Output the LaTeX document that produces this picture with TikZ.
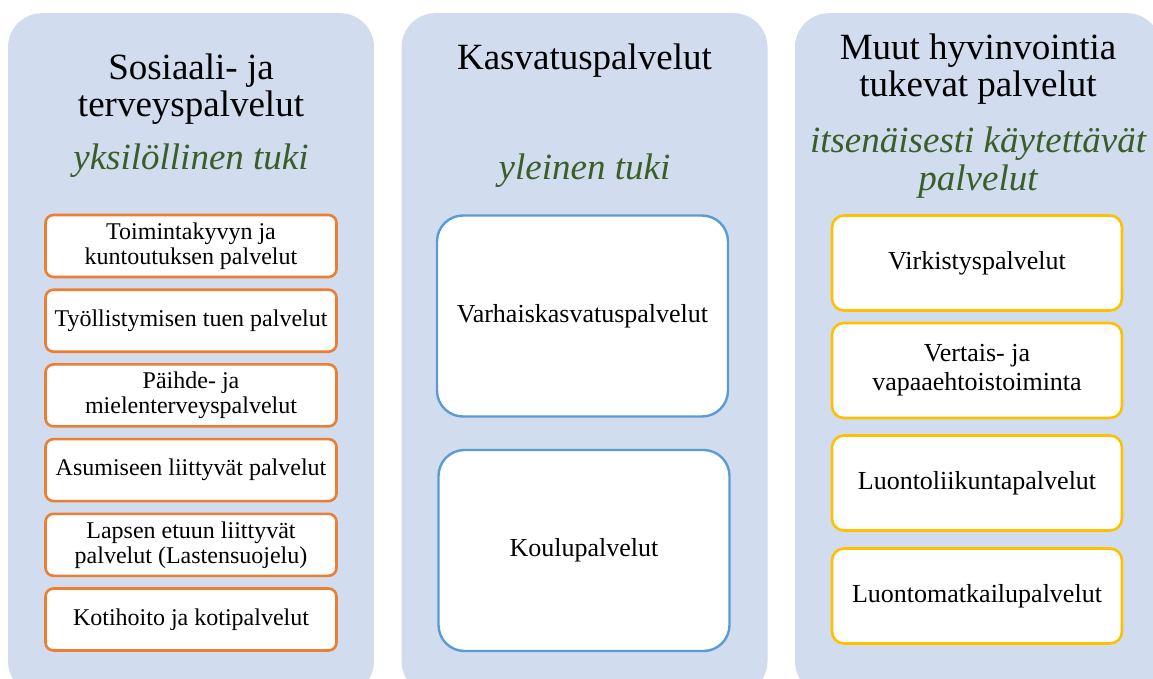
\documentclass[tikz,border=0pt]{standalone}
\usepackage{fontspec}
\setmainfont{Liberation Serif}
\usetikzlibrary{positioning}
\definecolor{panelblue}{HTML}{D1DCEE}
\definecolor{subgreen}{HTML}{3A5E27}
\definecolor{lineorange}{HTML}{ED7D31}
\definecolor{lineblue}{HTML}{5B9BD5}
\definecolor{linegold}{HTML}{FFC000}
\tikzset{
	panel/.style={rectangle, rounded corners=34pt, fill=panelblue,
		minimum width=366pt, minimum height=682pt, anchor=north},
	head/.style={anchor=base, align=center, font=\fontsize{37}{37}\selectfont},
	sub/.style={anchor=base, align=center, text=subgreen,
		font=\fontsize{37}{37}\selectfont\itshape},
	obox/.style={draw=lineorange, line width=2.6pt, fill=white, rounded corners=8pt,
		minimum width=291pt, minimum height=62pt, align=center,
		font=\fontsize{24}{25}\selectfont},
	kbox/.style={draw=lineblue, line width=2.4pt, fill=white, rounded corners=26pt,
		minimum width=291pt, minimum height=201pt, align=center,
		font=\fontsize{26}{28}\selectfont},
	ybox/.style={draw=linegold, line width=2.6pt, fill=white, rounded corners=12pt,
		minimum width=290pt, minimum height=95pt, align=center,
		font=\fontsize{26}{29}\selectfont}
}

\begin{document}
\begin{tikzpicture}[x=1pt, y=-1pt, node distance=10.1pt]
	\useasboundingbox (0,0) rectangle (1153,679);
	\clip (0,0) rectangle (1153,679);
	% taustat
	\node[panel] (sote) at (191,13) {};
	\node[panel] (kasvatus) at (584.5,13) {};
	\node[panel] (muut) at (978,13) {};
	% otsikot (base = viimeisen rivin perusviiva)
	\node[head] (sotehead) at (191,117) {Sosiaali- ja\\terveyspalvelut};
	\node[sub] (sotesub) at (191,170) {yksilöllinen tuki};
	\node[head] (kasvatushead) at (584.5,70) {Kasvatuspalvelut};
	\node[sub] (kasvatussub) at (584.5,180) {yleinen tuki};
	\node[head] (muuthead) at (978,97) {Muut hyvinvointia\\tukevat palvelut};
	\node[sub] (muutsub) at (978,190) {itsenäisesti käytettävät\\palvelut};
	% yksilöllinen tuki
	\node[obox] (toiminta) at (191,246) {Toimintakyvyn ja\\kuntoutuksen palvelut};
	\node[obox, below=of toiminta] (tyo) {Työllistymisen tuen palvelut};
	\node[obox, below=of tyo] (paihde) {Päihde- ja\\mielenterveyspalvelut};
	\node[obox, below=of paihde] (asuminen) {Asumiseen liittyvät palvelut};
	\node[obox, below=of asuminen] (lapsi) {Lapsen etuun liittyvät\\palvelut (Lastensuojelu)};
	\node[obox, below=of lapsi] (koti) {Kotihoito ja kotipalvelut};
	% yleinen tuki
	\node[kbox] (varhais) at (582.5,316) {Varhaiskasvatuspalvelut};
	\node[kbox] (koulu) at (584,550.5) {Koulupalvelut};
	% itsenäisesti käytettävät
	\node[ybox] (virkistys) at (977,263) {Virkistyspalvelut};
	\node[ybox] (vertais) at (977,370.5) {Vertais- ja\\vapaaehtoistoiminta};
	\node[ybox] (liikunta) at (977,483) {Luontoliikuntapalvelut};
	\node[ybox] (matkailu) at (977,596) {Luontomatkailupalvelut};
\end{tikzpicture}
\end{document}
